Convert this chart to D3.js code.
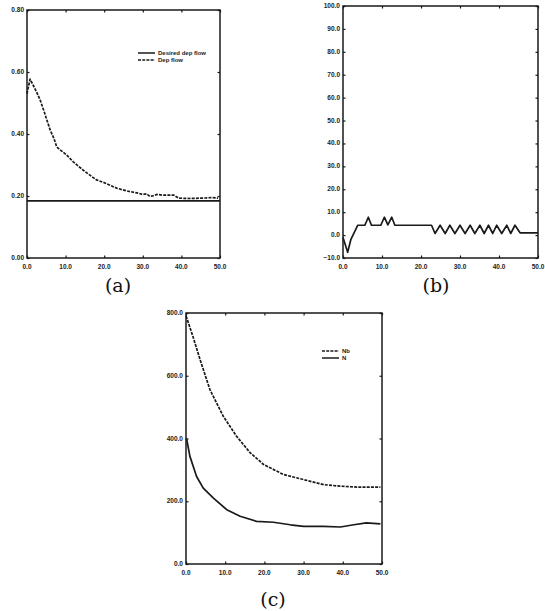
<!DOCTYPE html>
<html>
<head>
<meta charset="utf-8">
<script src="https://cdn.jsdelivr.net/npm/d3@7"></script>
<style>
  body { margin: 0; background: #fff; }
  svg { display: block; }
  .tick-label { font-family: "Liberation Sans", "DejaVu Sans", sans-serif; font-size: 6.5px; font-weight: bold; fill: #222; }
  .legend-text { font-family: "Liberation Sans", "DejaVu Sans", sans-serif; font-size: 6px; font-weight: bold; fill: #222; }
  .panel-label { font-family: "DejaVu Serif", "Liberation Serif", serif; font-size: 19px; fill: #111; }
</style>
</head>
<body>
<svg id="chart" width="545" height="611"></svg>
<script>
// Panel (a): flows over time
const timeA = [0, 0.3, 0.8, 1.5, 2.5, 3.4, 4.5, 6, 7, 7.7, 9, 10.3, 12, 14.5, 16, 18, 20, 23.3, 26, 28.5, 30, 31, 31.8, 32.5, 33.6, 35, 37, 38, 39.3, 42, 45, 48, 49.5];
const depFlowA = [0.53, 0.548, 0.577, 0.56, 0.535, 0.51, 0.47, 0.413, 0.385, 0.358, 0.345, 0.332, 0.31, 0.284, 0.27, 0.252, 0.243, 0.225, 0.216, 0.21, 0.205, 0.207, 0.199, 0.2, 0.205, 0.203, 0.203, 0.203, 0.193, 0.192, 0.193, 0.195, 0.193];
const desiredTimeA = [0, 50];
const desiredFlowA = [0.184, 0.184];
const legendA = ["Desired dep flow", "Dep flow"];
const yTicksA = [0, 0.2, 0.4, 0.6, 0.8];

// Panel (b)
const timeB = [0, 1.2, 2, 3.8, 5.6, 6.5, 7.3, 9.7, 10.6, 11.5, 12.5, 13.3, 22.7, 23.6, 24.9, 26.2, 27.4, 28.7, 30, 31.3, 32.6, 33.8, 35.1, 36.2, 37.3, 38.4, 39.4, 40.7, 42, 43, 44.1, 45.4, 50];
const valueB = [-1, -7.5, -2, 4.3, 4.3, 7.8, 4.3, 4.3, 7.8, 4.5, 7.8, 4.3, 4.3, 0.7, 4.3, 0.7, 4.3, 0.7, 4.3, 0.7, 4.3, 0.7, 4.3, 0.7, 4.3, 0.7, 4.3, 0.7, 4.3, 0.7, 4.3, 1.0, 1.0];
const yTicksB = [-10, 0, 10, 20, 30, 40, 50, 60, 70, 80, 90, 100];

// Panel (c)
const timeNb = [0, 0.2, 1.9, 3.6, 6.1, 9.5, 12.9, 16.4, 19.8, 24.9, 30, 35.1, 39.4, 43.6, 49.6];
const valueNb = [790, 784, 720, 651, 556, 471, 407, 354, 317, 285, 269, 253, 248, 245, 245];
const timeN = [0, 0.2, 1, 2.7, 4.4, 7, 10.4, 13.8, 18, 22.3, 26.6, 30, 35, 39.4, 42.8, 46, 49.6];
const valueN = [400, 396, 343, 279, 242, 210, 173, 152, 136, 133, 125, 120, 120, 118, 125, 131, 128];
const legendC = ["Nb", "N"];
const yTicksC = [0, 200, 400, 600, 800];

const xTicks = [0, 10, 20, 30, 40, 50];

const svg = d3.select("#chart");
const ink = "#1a1a1a";

function zip(xs, ys) {
    return xs.map((x, i) => [x, ys[i]]);
}

// Draws one framed panel with inward ticks on all sides, returns its scales
function drawPanel(box, yDomain, yTicks, yFormat) {
    const x = d3.scaleLinear().domain([0, 50]).range([box.left, box.right]);
    const y = d3.scaleLinear().domain(yDomain).range([box.bottom, box.top]);
    const g = svg.append("g");

    g.append("rect")
     .attr("x", box.left).attr("y", box.top)
     .attr("width", box.right - box.left).attr("height", box.bottom - box.top)
     .attr("fill", "none").attr("stroke", ink).attr("stroke-width", 1.5);

    // bottom and top ticks
    g.append("g").attr("transform", "translate(0," + box.bottom + ")")
     .call(d3.axisTop(x).tickValues(xTicks).tickSize(2.5).tickFormat(""))
     .call(a => a.select(".domain").remove());
    g.append("g").attr("transform", "translate(0," + box.top + ")")
     .call(d3.axisBottom(x).tickValues(xTicks).tickSize(2.5).tickFormat(""))
     .call(a => a.select(".domain").remove());
    // left and right ticks
    g.append("g").attr("transform", "translate(" + box.left + ",0)")
     .call(d3.axisRight(y).tickValues(yTicks).tickSize(2.5).tickFormat(""))
     .call(a => a.select(".domain").remove());
    g.append("g").attr("transform", "translate(" + box.right + ",0)")
     .call(d3.axisLeft(y).tickValues(yTicks).tickSize(2.5).tickFormat(""))
     .call(a => a.select(".domain").remove());
    g.selectAll(".tick line").attr("stroke", ink).attr("stroke-width", 1.2);

    // tick labels
    g.selectAll(".xlab").data(xTicks).enter().append("text")
     .attr("class", "tick-label")
     .attr("x", d => x(d)).attr("y", box.bottom + 11)
     .attr("text-anchor", "middle")
     .text(d => d3.format(".1f")(d));
    g.selectAll(".ylab").data(yTicks).enter().append("text")
     .attr("class", "tick-label")
     .attr("x", box.left - 3).attr("y", d => y(d) + 2)
     .attr("text-anchor", "end")
     .text(d => d3.format(yFormat)(d));

    return { x, y, g };
}

function drawLine(p, pts, dashed) {
    p.g.append("path")
       .datum(pts)
       .attr("d", d3.line().x(d => p.x(d[0])).y(d => p.y(d[1])))
       .attr("fill", "none")
       .attr("stroke", ink)
       .attr("stroke-width", 1.7)
       .attr("stroke-linejoin", "round")
       .attr("stroke-dasharray", dashed ? "3,1.2" : null);
}

function drawLegend(p, x0, y0, labels, dashedFlags) {
    labels.forEach((lab, i) => {
        const yy = y0 + i * 7;
        p.g.append("line")
           .attr("x1", x0).attr("x2", x0 + 17).attr("y1", yy).attr("y2", yy)
           .attr("stroke", ink).attr("stroke-width", 1.5)
           .attr("stroke-dasharray", dashedFlags[i] ? "3,1.2" : null);
        p.g.append("text").attr("class", "legend-text")
           .attr("x", x0 + 20).attr("y", yy + 2).text(lab);
    });
}

// (a)
const pa = drawPanel({ left: 27, right: 220, top: 10, bottom: 258 }, [0, 0.8], yTicksA, ".2f");
drawLine(pa, zip(desiredTimeA, desiredFlowA), false);
drawLine(pa, zip(timeA, depFlowA), true);
drawLegend(pa, 138, 53, legendA, [false, true]);

// (b)
const pb = drawPanel({ left: 343, right: 538, top: 6, bottom: 258 }, [-10, 100], yTicksB, ".1f");
drawLine(pb, zip(timeB, valueB), false);

// (c)
const pc = drawPanel({ left: 186, right: 382, top: 313, bottom: 564 }, [0, 800], yTicksC, ".1f");
drawLine(pc, zip(timeNb, valueNb), true);
drawLine(pc, zip(timeN, valueN), false);
drawLegend(pc, 322, 351, legendC, [true, false]);

// panel letters
[["(a)", 118, 292], ["(b)", 436, 292], ["(c)", 273, 606]].forEach(l => {
    svg.append("text").attr("class", "panel-label")
       .attr("x", l[1]).attr("y", l[2]).attr("text-anchor", "middle").text(l[0]);
});
</script>
</body>
</html>
